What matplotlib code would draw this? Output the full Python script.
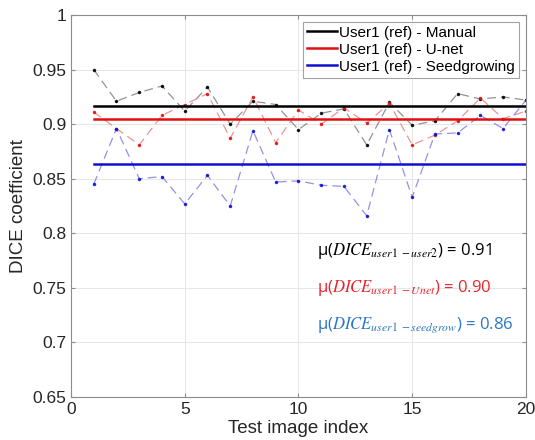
import numpy as np
import matplotlib
matplotlib.use('Agg')
import matplotlib.pyplot as plt
from matplotlib.ticker import FuncFormatter

plt.rcParams['font.family'] = ['Liberation Sans', 'DejaVu Sans']
plt.rcParams['mathtext.fontset'] = 'stix'

# 데이터
test_idx = np.arange(1, 21)
dice_manual = [0.950, 0.921, 0.929, 0.935, 0.912, 0.934, 0.900, 0.921, 0.918, 0.895,
               0.910, 0.914, 0.881, 0.920, 0.899, 0.903, 0.928, 0.923, 0.925, 0.922]
dice_unet = [0.911, 0.896, 0.881, 0.908, 0.918, 0.928, 0.887, 0.925, 0.883, 0.913,
             0.900, 0.915, 0.901, 0.919, 0.881, 0.890, 0.903, 0.924, 0.905, 0.912]
dice_seed = [0.845, 0.896, 0.850, 0.852, 0.827, 0.853, 0.825, 0.894, 0.847, 0.848,
             0.844, 0.843, 0.816, 0.895, 0.833, 0.891, 0.892, 0.908, 0.896, 0.922]
labels = ['User1 (ref) - Manual', 'User1 (ref) - U-net', 'User1 (ref) - Seedgrowing']
mean_texts = [r'μ($DICE_{user1\ -user2}$) = 0.91',
              r'μ($DICE_{user1\ -Unet}$) = 0.90',
              r'μ($DICE_{user1\ -seedgrow}$) = 0.86']

line_colors = ['black', '#e01010', '#1010d0']
dash_colors = ['#808080', '#f08080', '#8080e0']
text_colors = ['black', '#e8262a', '#2a78c4']

fig = plt.figure(figsize=(5.35, 4.4), dpi=100)
ax = fig.add_axes([0.1327, 0.0977, 0.8503, 0.8682])

series = [dice_manual, dice_unet, dice_seed]
for vals, lc, dc in zip(series, line_colors, dash_colors):
    ax.plot(test_idx, vals, linestyle=(0, (7, 4)), color=dc, lw=0.9,
            marker='.', ms=3, mfc=lc, mec=lc, alpha=0.85)

for vals, lc, lab in zip(series, line_colors, labels):
    m = np.mean(vals)
    ax.plot([test_idx[0], test_idx[-1]], [m, m], color=lc, lw=1.8, label=lab)

for i, (txt, c) in enumerate(zip(mean_texts, text_colors)):
    ax.text(10.82, 0.784 - i * 0.034, txt, color=c, fontsize=12,
            family=['Open Sans', 'DejaVu Sans'], va='center', ha='left')

ax.set_xlim(0, 20)
ax.set_ylim(0.65, 1)
ax.set_xticks([0, 5, 10, 15, 20])
ax.set_yticks(np.arange(0.65, 1.001, 0.05))
ax.yaxis.set_major_formatter(FuncFormatter(lambda v, p: '%g' % round(v, 2)))
ax.grid(True, color='#e6e6e6', lw=0.7)
ax.set_axisbelow(True)
for s in ax.spines.values():
    s.set_color('#8c8c8c')
    s.set_linewidth(0.8)
ax.tick_params(direction='in', length=3, color='#8c8c8c', labelsize=12.5,
               labelcolor='#262626', top=True, right=True)
ax.set_xlabel('Test image index', fontsize=13.5, color='#262626', labelpad=2)
ax.set_ylabel('DICE coefficient', fontsize=13.5, color='#262626', labelpad=4)

leg = ax.legend(loc='upper right', fontsize=11, frameon=True, fancybox=False,
                handlelength=2.0, handletextpad=0.15, borderpad=0.25,
                labelspacing=0.2, borderaxespad=0.45)
leg.get_frame().set_edgecolor('#8c8c8c')
leg.get_frame().set_linewidth(0.8)

plt.savefig('out.png', dpi=100)
